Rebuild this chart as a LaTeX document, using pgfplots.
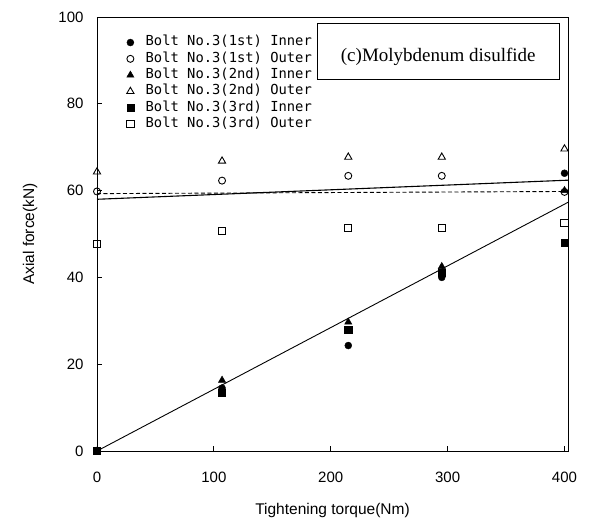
\documentclass[border=0pt]{standalone}
\usepackage{fontspec}
\setmainfont{Liberation Sans}
\newfontfamily\seriffont{Liberation Serif}
\newfontfamily\legfont{DejaVu Sans Mono}
\usepackage{pgfplots}
\pgfplotsset{compat=1.18}
\begin{document}
\begin{tikzpicture}
\useasboundingbox (-97pt,-76pt) rectangle (492pt,451pt);
\begin{axis}[
  at={(0pt,0pt)}, anchor=south west,
  scale only axis, width=471pt, height=434pt,
  xmin=0, xmax=403, ymin=0, ymax=100,
  xtick={0,100,200,300,400}, ytick={0,20,40,60,80,100},
  xtick pos=lower, ytick pos=left,
  tick align=inside, major tick length=5pt,
  axis line style={line width=0.9pt}, tick style={line width=0.8pt, black},
  /pgf/number format/assume math mode=true,
  tick label style={font=\fontsize{15}{18}\selectfont},
  yticklabel style={xshift=-10pt},
  xticklabel style={yshift=-17pt},
  xlabel={Tightening torque(Nm)}, ylabel={Axial force(kN)},
  label style={font=\fontsize{15.5}{18}\selectfont},
  xlabel style={at={(axis description cs:0.5,-0.136)}, anchor=center},
  ylabel style={at={(axis description cs:-0.142,0.5)}, anchor=center},
  legend cell align=left,
  legend style={draw=none, fill=none, at={(axis description cs:0.052,0.965)}, anchor=north west,
    font=\legfont\fontsize{13.8}{17}\selectfont,
    row sep=0pt,
    nodes={inner sep=0.5pt, text height=11pt, text depth=4.3pt}},
  legend image code/.code={\path[draw=none] (0cm,0cm) -- (0.72cm,0cm); \draw[#1] plot coordinates {(0.2cm,0cm)};},
]
% fitted lines
\addplot[black, line width=1.1pt, forget plot] coordinates {(0,58.0) (403,62.4)};
\addplot[black, line width=0.9pt, dashed, dash pattern=on 4pt off 2.5pt, forget plot] coordinates {(0,59.3) (403,59.8)};
\addplot[black, line width=0.9pt, forget plot] coordinates {(0,0) (403,57.3)};
% data
\addplot[only marks, mark=*, mark size=3.5pt, black, mark options={fill=black}] coordinates {(0,0) (107,14.5) (215,24.3) (295,40.0) (400,64.0)};
\addlegendentry{Bolt No.3(1st) Inner}
\addplot[only marks, mark=o, mark size=3.5pt, black, mark options={fill=white, line width=0.9pt}] coordinates {(0,59.8) (107,62.3) (215,63.4) (295,63.4) (400,59.7)};
\addlegendentry{Bolt No.3(1st) Outer}
\addplot[only marks, mark=triangle*, mark size=4.2pt, black, mark options={fill=black}] coordinates {(0,0) (107,16.3) (215,29.7) (295,42.5) (400,60.0)};
\addlegendentry{Bolt No.3(2nd) Inner}
\addplot[only marks, mark=triangle, mark size=4.2pt, black, mark options={fill=white, line width=0.9pt}] coordinates {(0,64.3) (107,66.8) (215,67.7) (295,67.7) (400,69.6)};
\addlegendentry{Bolt No.3(2nd) Outer}
\addplot[only marks, mark=square*, mark size=3.6pt, black, mark options={fill=black}] coordinates {(0,0) (107,13.5) (215,28.0) (295,41.0) (400,48.0)};
\addlegendentry{Bolt No.3(3rd) Inner}
\addplot[only marks, mark=square, mark size=3.6pt, black, mark options={fill=white, line width=0.9pt}] coordinates {(0,47.7) (107,50.7) (215,51.4) (295,51.4) (400,52.5)};
\addlegendentry{Bolt No.3(3rd) Outer}
% caption box
\draw[black, line width=0.9pt, fill=white] (axis cs:189,98.6) rectangle (axis cs:396,85.7);
\node[font=\seriffont\fontsize{19}{22}\selectfont, anchor=center] at (axis cs:292,90.8) {(c)Molybdenum disulfide};
\end{axis}
\end{tikzpicture}
\end{document}
